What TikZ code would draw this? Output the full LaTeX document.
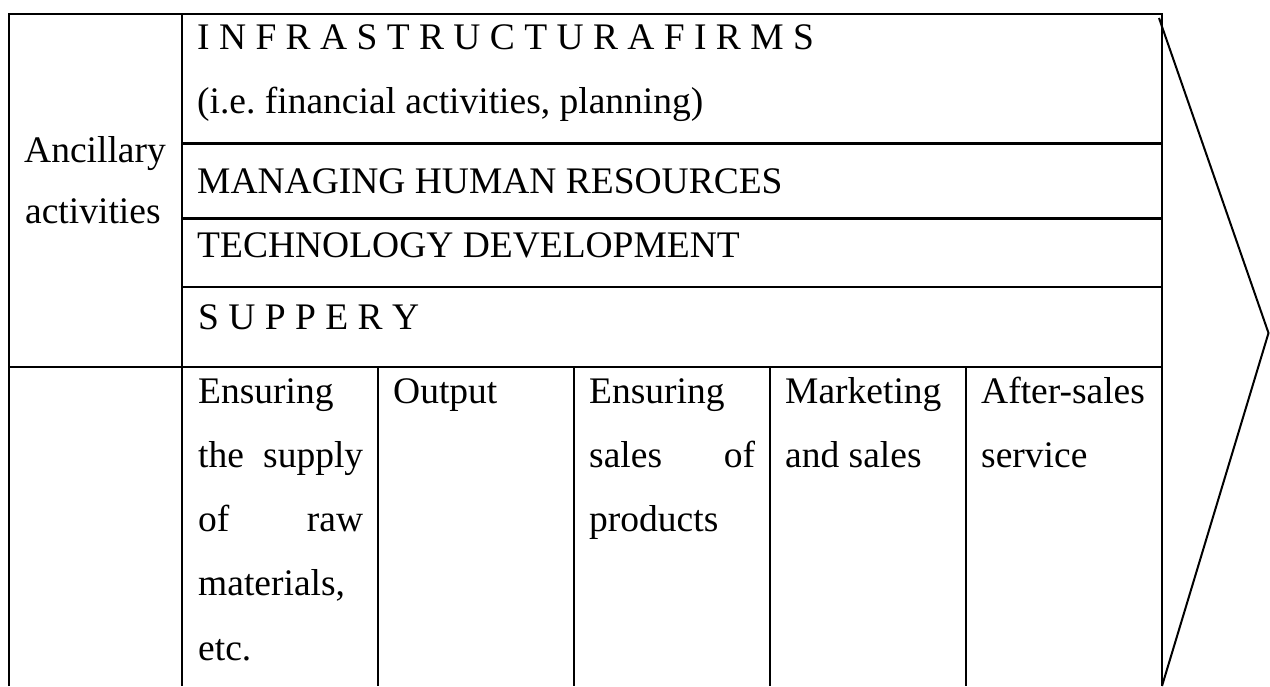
\documentclass[tikz,border=0pt]{standalone}
\usepackage{fontspec}
\setmainfont{Liberation Serif}
\frenchspacing
\begin{document}
\begin{tikzpicture}[x=1pt,y=-1pt,
  tbl/.style={line width=2.8pt},
  diag/.style={line width=2pt, line join=miter},
  txt/.style={anchor=base west, inner sep=0pt, font=\fontsize{37.5pt}{45pt}\selectfont}]
\useasboundingbox (0,0) rectangle (1270,686);
\fill[white] (0,0) rectangle (1270,686);
% table frame
\coordinate (tl) at (9,14);
\coordinate (tr) at (1162,14);
\draw[tbl] (9,686) -- (tl) -- (tr) -- (1162,686);
\draw[tbl] (182,14) -- (182,686);
\draw[tbl] (182,143.5) -- (1162,143.5);
\draw[tbl] (182,218.5) -- (1162,218.5);
\draw[tbl] (182,287) -- (1162,287);
\draw[tbl] (9,367) -- (1162,367);
\foreach \x in {378,574,770,966} \draw[tbl] (\x,367) -- (\x,686);
% chevron
\coordinate (d1) at (1159,18);
\coordinate (tip) at (1268.5,333);
\coordinate (d2) at (1162,686);
\draw[diag] (d1) -- (tip) -- (d2);
% left label
\node[txt] (anc1) at (24,162) {Ancillary};
\node[txt] (anc2) at (25,223) {activities};
% support activities
\node[txt] (infra) at (197,49) {I N F R A S T R U C T U R A F I R M S};
\node[txt] (infra2) at (197,113) {(i.e. financial activities, planning)};
\node[txt] (hr) at (197,193) {MANAGING HUMAN RESOURCES};
\node[txt] (tech) at (197,257) {TECHNOLOGY DEVELOPMENT};
\node[txt] (supp) at (198,329) {S U P P E R Y};
% primary activities
\node[txt] (c1a) at (198,403) {Ensuring};
\node[txt] (c1b) at (198,467) {\makebox[165pt][s]{the supply}};
\node[txt] (c1c) at (198,531) {\makebox[165pt][s]{of raw}};
\node[txt] (c1d) at (198,595) {materials,};
\node[txt] (c1e) at (198,660) {etc.};
\node[txt] (c2a) at (393,403) {Output};
\node[txt] (c3a) at (589,403) {Ensuring};
\node[txt] (c3b) at (589,467) {\makebox[166pt][s]{sales of}};
\node[txt] (c3c) at (589,531) {products};
\node[txt] (c4a) at (785,403) {Marketing};
\node[txt] (c4b) at (785,467) {and sales};
\node[txt] (c5a) at (981,403) {After-sales};
\node[txt] (c5b) at (981,467) {service};
\end{tikzpicture}
\end{document}
